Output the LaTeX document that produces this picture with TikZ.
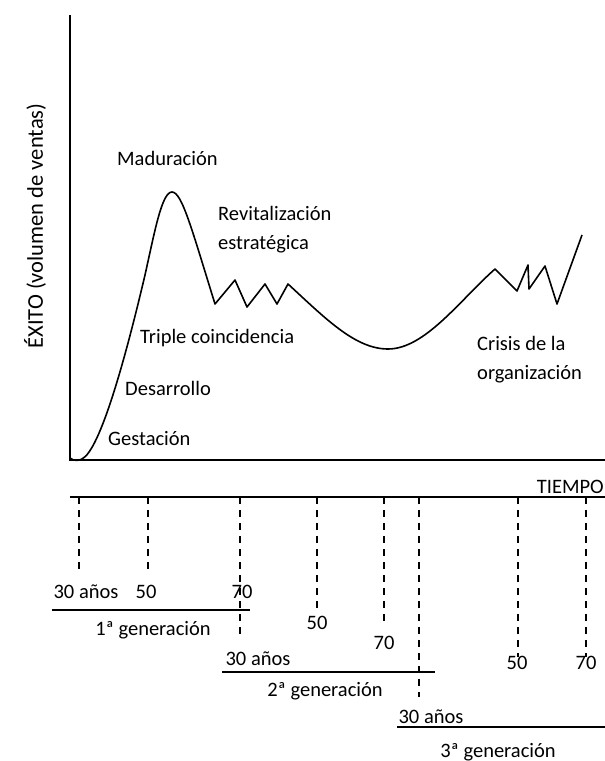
\documentclass[tikz,border=0pt]{standalone}
\usepackage{fontspec}
\setmainfont{Carlito}
\begin{document}
\begin{tikzpicture}[x=1pt,y=-1pt,
  lbl/.style={font=\fontsize{20.5}{24}\selectfont, inner sep=0pt, anchor=base west},
  num/.style={font=\fontsize{20.5}{24}\selectfont, inner sep=0pt},
  axis/.style={line width=1.8pt},
  curve/.style={line width=1.6pt, line join=round},
  dsh/.style={line width=1.5pt, dash pattern=on 7pt off 6pt},
  gen/.style={line width=1.5pt}]
\useasboundingbox (0,0) rectangle (605,761);
% axes
\coordinate (ytop) at (70,15);
\coordinate (orig) at (70,460);
\coordinate (xend) at (605,460);
\draw[axis] (ytop) -- (orig) -- (xend);
\node[num, font=\fontsize{22.5}{26}\selectfont, rotate=90] (ylab) at (35,226) {ÉXITO (volumen de ventas)};
% curve
\draw[curve] (70,458) .. controls (74,461) and (78,461) .. (82,459)
  .. controls (100,450) and (125,360) .. (145,275)
  .. controls (155,230) and (162,192) .. (172,192)
  .. controls (182,192) and (192,230) .. (215,304)
  -- (235,280) -- (247,307) -- (265,284) -- (277,304) -- (288,284)
  .. controls (325,318) and (355,349) .. (388,349)
  .. controls (425,349) and (460,300) .. (495,269)
  -- (517,291) -- (528,265) -- (529,289) -- (545,266) -- (557,304) -- (582,235);
% labels
\node[lbl] (mad) at (117,165) {Maduración};
\node[lbl] (rev) at (218,220) {Revitalización};
\node[lbl] (est) at (218,249) {estratégica};
\node[lbl] (tri) at (140,343) {Triple coincidencia};
\node[lbl] (des) at (125,395) {Desarrollo};
\node[lbl] (ges) at (108,445) {Gestación};
\node[lbl] (cri) at (477,350) {Crisis de la};
\node[lbl] (org) at (477,379) {organización};
% time axis
\coordinate (t0) at (70,497);
\coordinate (t1) at (605,497);
\draw[axis] (t0) -- (t1);
\node[lbl, anchor=base east] (tiempo) at (604,493) {TIEMPO};
% dashed verticals
\foreach \x/\yb in {79/575, 148/575, 240/640, 317/610, 384/627, 419/697, 518/657, 586/657}{
  \coordinate (a\x) at (\x,497);
  \coordinate (b\x) at (\x,\yb);
  \draw[dsh] (a\x) -- (b\x);
}
% numbers
\node[num] (n30a) at (86,592) {30 años};
\node[num] (n50a) at (146,592) {50};
\node[num] (n70a) at (242,592) {70};
\node[num] (n50b) at (317,623) {50};
\node[num] (n70b) at (384,643) {70};
\node[num] (n30b) at (258,659) {30 años};
\node[num] (n50c) at (517,663) {50};
\node[num] (n70c) at (586,663) {70};
\node[num] (n30c) at (431,717) {30 años};
% generation lines
\coordinate (g1a) at (52,610); \coordinate (g1b) at (250,610);
\coordinate (g2a) at (222,672); \coordinate (g2b) at (435,672);
\coordinate (g3a) at (397,727); \coordinate (g3b) at (605,727);
\draw[gen] (g1a) -- (g1b);
\draw[gen] (g2a) -- (g2b);
\draw[gen] (g3a) -- (g3b);
\node[num] (gen1) at (153,630) {1ª generación};
\node[num] (gen2) at (325,691) {2ª generación};
\node[num] (gen3) at (498,752) {3ª generación};
\end{tikzpicture}
\end{document}
